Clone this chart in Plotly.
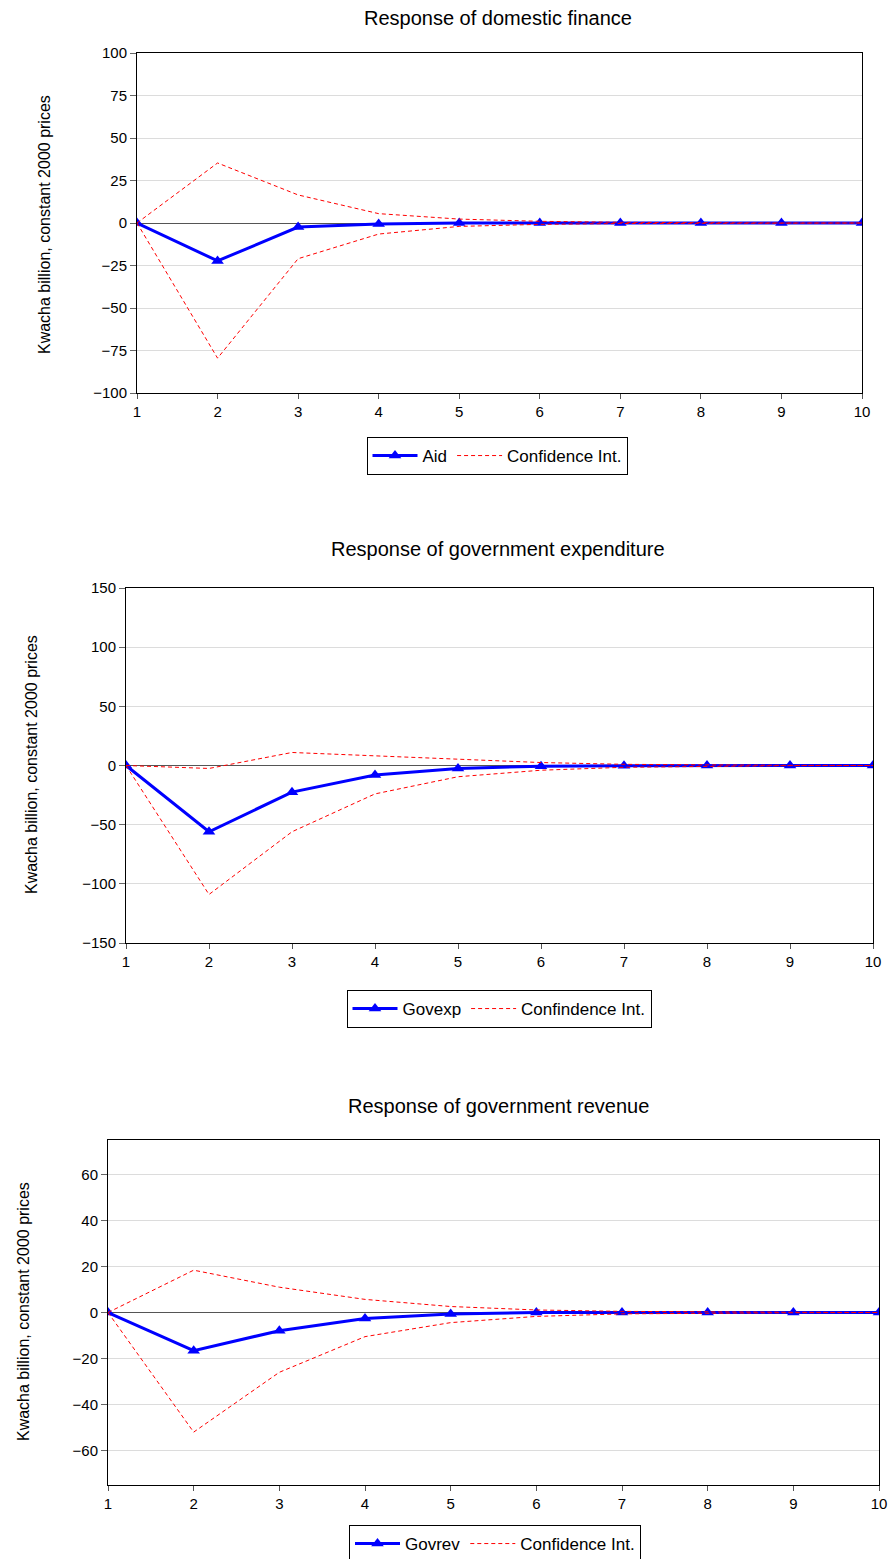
import plotly.graph_objects as go

W, H = 896, 1559

periods = [1, 2, 3, 4, 5, 6, 7, 8, 9, 10]

# Response of domestic finance
aid = [0, -22.3, -2.4, -0.6, 0.0, 0.0, 0.0, 0.0, 0.0, 0.0]
aid_upper = [0, 35.3, 16.5, 5.5, 2.3, 1.0, 0.4, 0.1, 0.0, 0.0]
aid_lower = [0, -79.5, -21.0, -6.5, -2.0, -0.8, -0.3, -0.1, 0.0, 0.0]

# Response of government expenditure
govexp = [0, -56.0, -22.5, -8.0, -2.5, -0.6, -0.2, 0.0, 0.0, 0.0]
govexp_upper = [0, -2.5, 11.0, 8.0, 5.0, 2.5, 1.0, 0.4, 0.1, 0.0]
govexp_lower = [0, -109.0, -56.0, -24.0, -9.5, -4.0, -1.5, -0.5, -0.1, 0.0]

# Response of government revenue
govrev = [0, -16.6, -7.9, -2.6, -0.6, 0.0, 0.0, 0.0, 0.0, 0.0]
govrev_upper = [0, 18.4, 11.0, 5.7, 2.6, 1.1, 0.5, 0.2, 0.1, 0.0]
govrev_lower = [0, -52.0, -26.0, -10.5, -4.4, -1.7, -0.6, -0.2, -0.1, 0.0]

FONT = "Liberation Sans, Arial, sans-serif"

panels = [
    dict(title="Response of domestic finance", name="Aid", ci_name="Confidence Int.",
         y=aid, up=aid_upper, lo=aid_lower, rng=[-100, 100], dtick=25,
         px=(137, 862), py=(53, 393), title_y=18, lab_x=45, lab_y=225,
         leg_x=497, leg_y=437),
    dict(title="Response of government expenditure", name="Govexp", ci_name="Confindence Int.",
         y=govexp, up=govexp_upper, lo=govexp_lower, rng=[-150, 150], dtick=50,
         px=(126, 873), py=(588, 943), title_y=549, lab_x=31, lab_y=765,
         leg_x=499, leg_y=990),
    dict(title="Response of government revenue", name="Govrev", ci_name="Confidence Int.",
         y=govrev, up=govrev_upper, lo=govrev_lower, rng=[-75, 75], dtick=20,
         px=(108, 879), py=(1140, 1485), title_y=1106, lab_x=23, lab_y=1312,
         leg_x=495, leg_y=1525),
]

fig = go.Figure()
annotations = []
layout = {}

for i, p in enumerate(panels):
    k = "" if i == 0 else str(i + 1)
    xa, ya = "x" + k, "y" + k
    leg = "legend" + k

    fig.add_trace(go.Scatter(
        x=periods, y=p["y"], name=p["name"], mode="lines+markers",
        line=dict(color="#0000FF", width=3),
        marker=dict(symbol="triangle-up", size=11, color="#0000FF"),
        xaxis=xa, yaxis=ya, legend=leg,
    ))
    fig.add_trace(go.Scatter(
        x=periods, y=p["up"], name=p["ci_name"], mode="lines",
        line=dict(color="#FF0000", width=1, dash="4px,3px"),
        xaxis=xa, yaxis=ya, legend=leg,
    ))
    fig.add_trace(go.Scatter(
        x=periods, y=p["lo"], name=p["ci_name"], mode="lines", showlegend=False,
        line=dict(color="#FF0000", width=1, dash="4px,3px"),
        xaxis=xa, yaxis=ya, legend=leg,
    ))

    layout["xaxis" + k] = dict(
        domain=[p["px"][0] / W, p["px"][1] / W], anchor=ya, automargin=False,
        range=[1, 10], tickmode="array", tickvals=periods,
        showgrid=False, zeroline=False,
        showline=True, linecolor="black", linewidth=1, mirror=True,
        ticks="outside", ticklen=5, tickcolor="#555",
        tickfont=dict(size=15, color="black"),
    )
    layout["yaxis" + k] = dict(
        domain=[1 - p["py"][1] / H, 1 - p["py"][0] / H], anchor=xa, automargin=False,
        range=p["rng"], dtick=p["dtick"],
        showgrid=True, gridcolor="#DCDCDC", gridwidth=1,
        zeroline=True, zerolinecolor="#555", zerolinewidth=1,
        showline=True, linecolor="black", linewidth=1, mirror=True,
        ticks="outside", ticklen=6, tickcolor="#666",
        tickfont=dict(size=15, color="black"),
    )
    layout[leg] = dict(
        x=p["leg_x"] / W, y=1 - p["leg_y"] / H, xanchor="center", yanchor="top",
        orientation="h", bordercolor="black", borderwidth=1,
        bgcolor="white", font=dict(size=17, color="black"),
        itemwidth=45, tracegroupgap=0,
    )
    annotations.append(dict(
        text=p["title"], x=0.556, y=1 - p["title_y"] / H, xref="paper", yref="paper",
        xanchor="center", yanchor="middle",
        showarrow=False, font=dict(size=20, color="black"),
    ))
    annotations.append(dict(
        text="Kwacha billion, constant 2000 prices", textangle=-90,
        x=p["lab_x"] / W, y=1 - p["lab_y"] / H, xref="paper", yref="paper",
        xanchor="center", yanchor="middle",
        showarrow=False, font=dict(size=16, color="black"),
    ))

fig.update_layout(
    width=W, height=H,
    margin=dict(l=0, r=0, t=0, b=0, autoexpand=False),
    paper_bgcolor="white", plot_bgcolor="white",
    font=dict(family=FONT, color="black"),
    annotations=annotations,
    **layout,
)

# the page body has a default 8px margin; drop it so the figure fills the window
fig.write_html("out.html", config={"displayModeBar": False},
               post_script="document.body.style.margin='0px';")
